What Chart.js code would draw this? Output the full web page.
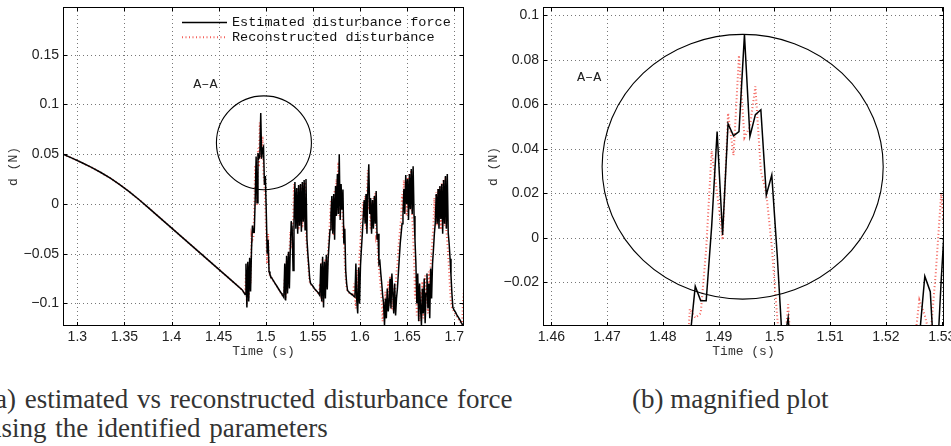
<!DOCTYPE html>
<html>
<head>
<meta charset="utf-8">
<script src="https://cdn.jsdelivr.net/npm/chart.js@4.4.1/dist/chart.umd.min.js"></script>
<style>
  body { margin: 0; width: 951px; height: 446px; overflow: hidden; background: #fff; position: relative; }
  .panel { position: absolute; top: 0; }
  .panel canvas { display: block; }
  .cap { position: absolute; font-family: "Liberation Serif", serif; font-size: 27px; line-height: 27px; color: #333; white-space: nowrap; }
</style>
</head>
<body>
<div class="panel" style="left:0"><canvas id="chartA" width="470" height="372"></canvas></div>
<div class="panel" style="left:480px"><canvas id="chartB" width="471" height="372"></canvas></div>
<div class="cap" style="left:-14px;top:386px;word-spacing:2px">(a) estimated vs reconstructed disturbance force</div>
<div class="cap" style="left:-12px;top:415px;word-spacing:2px">using the identified parameters</div>
<div class="cap" style="left:632px;top:386px">(b) magnified plot</div>
<script>
"use strict";
// smooth part before the disturbance bursts (same for both signals)
const smoothTime = [1.2848, 1.295, 1.305, 1.315, 1.325, 1.335, 1.345, 1.355, 1.365, 1.375,
    1.385, 1.395, 1.405, 1.415, 1.425, 1.435, 1.445, 1.455, 1.465, 1.475];
const smoothForce = [0.0500, 0.0458, 0.0414, 0.0367, 0.0316, 0.0259, 0.0195, 0.0124, 0.0047, -0.0034,
    -0.0117, -0.0200, -0.0283, -0.0366, -0.0449, -0.0532, -0.0615, -0.0698, -0.0781, -0.0864];

// sampled part, one value every sampleStep seconds from sampleStart
const sampleStart = 1.47796;
const sampleStep = 0.00098;
const estimatedForce = [
    -0.091, -0.060, -0.104, -0.058, -0.098, -0.054, -0.088, -0.046, -0.0218, -0.0284,
    -0.0284, 0.005, 0.0477, 0.0012, 0.0512, 0.0458, 0.0477, 0.0913, 0.0455, 0.0553,
    0.0575, 0.0192, 0.0282, -0.008, -0.050, -0.036, -0.068, -0.071, -0.073, -0.0745,
    -0.076, -0.0775, -0.079, -0.0805, -0.082, -0.0835, -0.085, -0.0865, -0.088, -0.0895,
    -0.091, -0.0925, -0.094, -0.060, -0.097, -0.052, -0.090, -0.048, -0.085, -0.045,
    -0.0173, -0.0243, -0.067, -0.019, 0.022, -0.025, 0.016, -0.030, 0.019, -0.022,
    0.020, -0.028, 0.022, -0.018, 0.024, -0.026, 0.025, -0.035, -0.050, -0.062,
    -0.075, -0.080, -0.081, -0.082, -0.0835, -0.085, -0.086, -0.087, -0.088, -0.089,
    -0.0905, -0.092, -0.060, -0.098, -0.053, -0.104, -0.058, -0.095, -0.051, -0.086,
    -0.055, -0.040, -0.026, -0.010, 0.008, -0.030, 0.010, -0.036, 0.018, -0.012,
    0.030, -0.010, 0.050, -0.016, 0.020, -0.005, 0.0145, -0.040, -0.025, -0.067,
    -0.080, -0.087, -0.088, -0.089, -0.090, -0.0905, -0.091, -0.092, -0.093, -0.0935,
    -0.060, -0.097, -0.110, -0.064, -0.100, -0.062, -0.045, -0.030, -0.012, 0.004,
    -0.020, 0.010, -0.030, 0.015, 0.040, -0.010, 0.006, -0.030, 0.004, -0.025,
    0.008, -0.020, 0.013, -0.036, -0.030, -0.060, -0.058, -0.070, -0.080, -0.092,
    -0.100, -0.122, -0.095, -0.115, -0.085, -0.108, -0.100, -0.075, -0.105, -0.070,
    -0.090, -0.110, -0.080, -0.112, -0.095, -0.085, -0.070, -0.055, -0.040, -0.030,
    -0.020, -0.012, 0.015, -0.010, 0.029, 0.000, 0.025, -0.016, 0.030, -0.005,
    0.035, -0.010, 0.038, -0.012, -0.036, -0.060, -0.100, -0.070, -0.118, -0.080,
    -0.105, -0.122, -0.085, -0.110, -0.075, -0.120, -0.090, -0.070, -0.105, -0.080,
    -0.115, -0.065, -0.095, -0.060, -0.046, -0.030, -0.019, 0.010, -0.020, 0.015,
    -0.025, 0.018, -0.015, 0.020, -0.030, 0.024, -0.020, 0.028, -0.025, 0.030,
    -0.029, -0.040, -0.055, -0.072, -0.090, -0.104, -0.106, -0.1075, -0.109, -0.111,
    -0.1125, -0.114, -0.1155, -0.117, -0.119, -0.1205, -0.1225, -0.085
];
const reconstructedForce = [
    -0.090, -0.070, -0.100, -0.062, -0.094, -0.060, -0.080, -0.032, -0.036, -0.034,
    -0.005, 0.039, 0.020, -0.001, 0.056, 0.037, 0.082, 0.045, 0.050, 0.068,
    0.030, 0.020, -0.004, -0.036, -0.060, -0.030, -0.070, -0.072, -0.073, -0.075,
    -0.076, -0.078, -0.079, -0.081, -0.082, -0.084, -0.085, -0.087, -0.088, -0.090,
    -0.091, -0.093, -0.090, -0.075, -0.094, -0.058, -0.086, -0.050, -0.050, -0.028,
    -0.035, -0.045, -0.016, 0.020, -0.010, 0.012, -0.020, 0.015, -0.026, 0.018,
    -0.020, 0.019, -0.024, 0.021, -0.016, 0.022, -0.030, -0.045, -0.055, -0.070,
    -0.078, -0.081, -0.0815, -0.0825, -0.084, -0.0855, -0.0865, -0.0875, -0.0885, -0.0895,
    -0.091, -0.080, -0.095, -0.056, -0.100, -0.062, -0.092, -0.055, -0.082, -0.065,
    -0.045, -0.030, -0.015, 0.004, -0.025, 0.006, -0.032, 0.014, -0.010, 0.025,
    -0.006, 0.042, -0.012, 0.016, -0.002, 0.012, -0.035, -0.030, -0.060, -0.075,
    -0.085, -0.0875, -0.0885, -0.0895, -0.090, -0.091, -0.0915, -0.0925, -0.080, -0.095,
    -0.105, -0.066, -0.098, -0.070, -0.050, -0.036, -0.020, -0.004, 0.002, -0.016,
    0.008, -0.025, 0.012, 0.034, -0.006, 0.004, -0.026, 0.002, -0.021, 0.006,
    -0.016, 0.011, -0.032, -0.028, -0.055, -0.065, -0.075, -0.086, -0.096, -0.118,
    -0.098, -0.110, -0.088, -0.104, -0.098, -0.078, -0.102, -0.072, -0.088, -0.106,
    -0.082, -0.108, -0.092, -0.082, -0.068, -0.060, -0.045, -0.034, -0.024, -0.015,
    0.010, -0.008, 0.024, 0.002, 0.021, -0.012, 0.026, -0.002, 0.031, -0.006,
    0.034, -0.010, -0.032, -0.055, -0.095, -0.072, -0.112, -0.082, -0.100, -0.118,
    -0.088, -0.106, -0.078, -0.115, -0.092, -0.072, -0.100, -0.082, -0.110, -0.068,
    -0.092, -0.062, -0.048, -0.034, -0.022, 0.006, -0.016, 0.012, -0.022, 0.015,
    -0.012, 0.017, -0.026, 0.021, -0.017, 0.025, -0.022, 0.027, -0.026, -0.038,
    -0.052, -0.068, -0.086, -0.100, -0.104, -0.106, -0.108, -0.1095, -0.111, -0.1125,
    -0.114, -0.1155, -0.117, -0.1185, -0.120, -0.122, -0.100, -0.086
];

const seriesLabels = ['Estimated disturbance force', 'Reconstructed disturbance'];

function toPoints(values) {
    let pts = smoothTime.map((t, i) => ({ x: t, y: smoothForce[i] }));
    values.forEach((v, i) => pts.push({ x: sampleStart + i * sampleStep, y: v }));
    return pts;
}

function tickText(v) {
    let s = String(Math.round(v * 10000) / 10000);
    return s.replace('-', '\u2212');
}

// dotted grid, box, inward ticks, the A-A circle and the legend (MATLAB look)
const matlabAxes = {
    id: 'matlabAxes',
    beforeDatasetsDraw(chart) {
        const { ctx, chartArea: a, scales: { x, y } } = chart;
        ctx.save();
        ctx.strokeStyle = '#777';
        ctx.lineWidth = 1;
        ctx.setLineDash([1, 3]);
        ctx.beginPath();
        x.ticks.forEach(t => {
            let px = Math.round(x.getPixelForValue(t.value)) + 0.5;
            ctx.moveTo(px, a.top); ctx.lineTo(px, a.bottom);
        });
        y.ticks.forEach(t => {
            let py = Math.round(y.getPixelForValue(t.value)) + 0.5;
            ctx.moveTo(a.left, py); ctx.lineTo(a.right, py);
        });
        ctx.stroke();
        ctx.restore();
    },
    afterDatasetsDraw(chart, args, opts) {
        const { ctx, chartArea: a, scales: { x, y } } = chart;
        ctx.save();
        ctx.strokeStyle = '#000';
        ctx.lineWidth = 1;
        ctx.strokeRect(a.left + 0.5, a.top + 0.5, a.width - 1, a.height - 1);
        ctx.beginPath();
        x.ticks.forEach(t => {
            let px = Math.round(x.getPixelForValue(t.value)) + 0.5;
            ctx.moveTo(px, a.bottom); ctx.lineTo(px, a.bottom - 4);
            ctx.moveTo(px, a.top); ctx.lineTo(px, a.top + 4);
        });
        y.ticks.forEach(t => {
            let py = Math.round(y.getPixelForValue(t.value)) + 0.5;
            ctx.moveTo(a.left, py); ctx.lineTo(a.left + 4, py);
            ctx.moveTo(a.right, py); ctx.lineTo(a.right - 4, py);
        });
        ctx.stroke();

        // section circle
        let r = opts.ring;
        let cx = x.getPixelForValue(r.x), cy = y.getPixelForValue(r.y);
        let rx = Math.abs(x.getPixelForValue(r.x + r.rx) - cx);
        let ry = Math.abs(y.getPixelForValue(r.y + r.ry) - cy);
        ctx.lineWidth = 1.1;
        ctx.beginPath();
        ctx.ellipse(cx, cy, rx, ry, 0, 0, Math.PI * 2);
        ctx.stroke();

        ctx.fillStyle = '#222';
        ctx.font = '13.5px "Liberation Mono"';
        ctx.textBaseline = 'middle';
        ctx.textAlign = 'left';
        ctx.fillText('A\u2013A', x.getPixelForValue(opts.tag.x), y.getPixelForValue(opts.tag.y));

        if (opts.legend) {
            let L = opts.legend;
            [0, 1].forEach(k => {
                let ds = chart.data.datasets.find(d => d.label === seriesLabels[k]);
                let yy = a.top + L.top + k * L.gap + 0.5;
                ctx.strokeStyle = ds.borderColor;
                ctx.lineWidth = ds.borderWidth;
                ctx.setLineDash(ds.borderDash || []);
                ctx.beginPath();
                ctx.moveTo(a.right - L.lineStart, yy);
                ctx.lineTo(a.right - L.lineEnd, yy);
                ctx.stroke();
                ctx.fillStyle = '#111';
                ctx.fillText(ds.label, a.right - L.textAt, yy);
            });
        }
        ctx.restore();
    }
};

function makeChart(id, lim, padRight, extra) {
    let canvas = document.getElementById(id);
    let ctx = canvas.getContext('2d');
    return new Chart(ctx, {
        type: 'scatter',
        data: {
            datasets: [{
                    label: seriesLabels[0],
                    data: toPoints(estimatedForce),
                    showLine: true,
                    borderColor: '#000',
                    borderWidth: 1.5,
                    pointRadius: 0,
                    order: 1
                }, {
                    label: seriesLabels[1],
                    data: toPoints(reconstructedForce),
                    showLine: true,
                    borderColor: 'rgba(240,30,20,0.7)',
                    borderWidth: 2,
                    borderDash: [1, 2.5],
                    pointRadius: 0,
                    order: 2
                }]
        },
        options: {
            responsive: false,
            animation: false,
            devicePixelRatio: 1,
            layout: { padding: { top: 7, right: padRight, left: 0, bottom: 0 } },
            plugins: {
                legend: { display: false },
                tooltip: { enabled: false },
                matlabAxes: extra
            },
            scales: {
                x: {
                    type: 'linear',
                    min: lim.xMin,
                    max: lim.xMax,
                    grid: { display: false, drawTicks: false },
                    border: { display: false },
                    ticks: {
                        stepSize: lim.xStep,
                        includeBounds: false,
                        autoSkip: false,
                        maxRotation: 0,
                        padding: 3,
                        color: '#222',
                        font: { family: 'Liberation Sans', size: 14 },
                        callback: v => tickText(v)
                    },
                    title: {
                        display: true,
                        text: 'Time (s)',
                        color: '#333',
                        font: { family: 'Liberation Mono', size: 13 },
                        padding: { top: 0, bottom: 13 }
                    },
                    afterFit: s => { s.height = 46; s.paddingLeft = 0; s.paddingRight = 0; }
                },
                y: {
                    type: 'linear',
                    min: lim.yMin,
                    max: lim.yMax,
                    grid: { display: false, drawTicks: false },
                    border: { display: false },
                    ticks: {
                        stepSize: lim.yStep,
                        includeBounds: false,
                        padding: 4,
                        color: '#222',
                        font: { family: 'Liberation Sans', size: 14 },
                        callback: v => tickText(v)
                    },
                    title: {
                        display: true,
                        text: 'd (N)',
                        color: '#333',
                        font: { family: 'Liberation Mono', size: 13 },
                        padding: { top: 5.5, bottom: 0 }
                    },
                    afterFit: s => { s.width = 63; s.paddingTop = 0; s.paddingBottom = 0; }
                }
            }
        },
        plugins: [matlabAxes]
    });
}

document.addEventListener('DOMContentLoaded', function () {
    makeChart('chartA',
        { xMin: 1.2848, xMax: 1.7103, xStep: 0.05, yMin: -0.1227, yMax: 0.198, yStep: 0.05 }, 6,
        {
            ring: { x: 1.498, y: 0.0615, rx: 0.0504, ry: 0.0472 },
            tag: { x: 1.423, y: 0.12 },
            legend: { lineStart: 282, lineEnd: 237, textAt: 232, top: 15, gap: 14.7 }
        });
    makeChart('chartB',
        { xMin: 1.4585, xMax: 1.5304, xStep: 0.01, yMin: -0.0397, yMax: 0.1037, yStep: 0.02 }, 7,
        {
            ring: { x: 1.4943, y: 0.0319, rx: 0.0252, ry: 0.0595 },
            tag: { x: 1.4646, y: 0.072 }
        });
});
</script>
</body>
</html>
